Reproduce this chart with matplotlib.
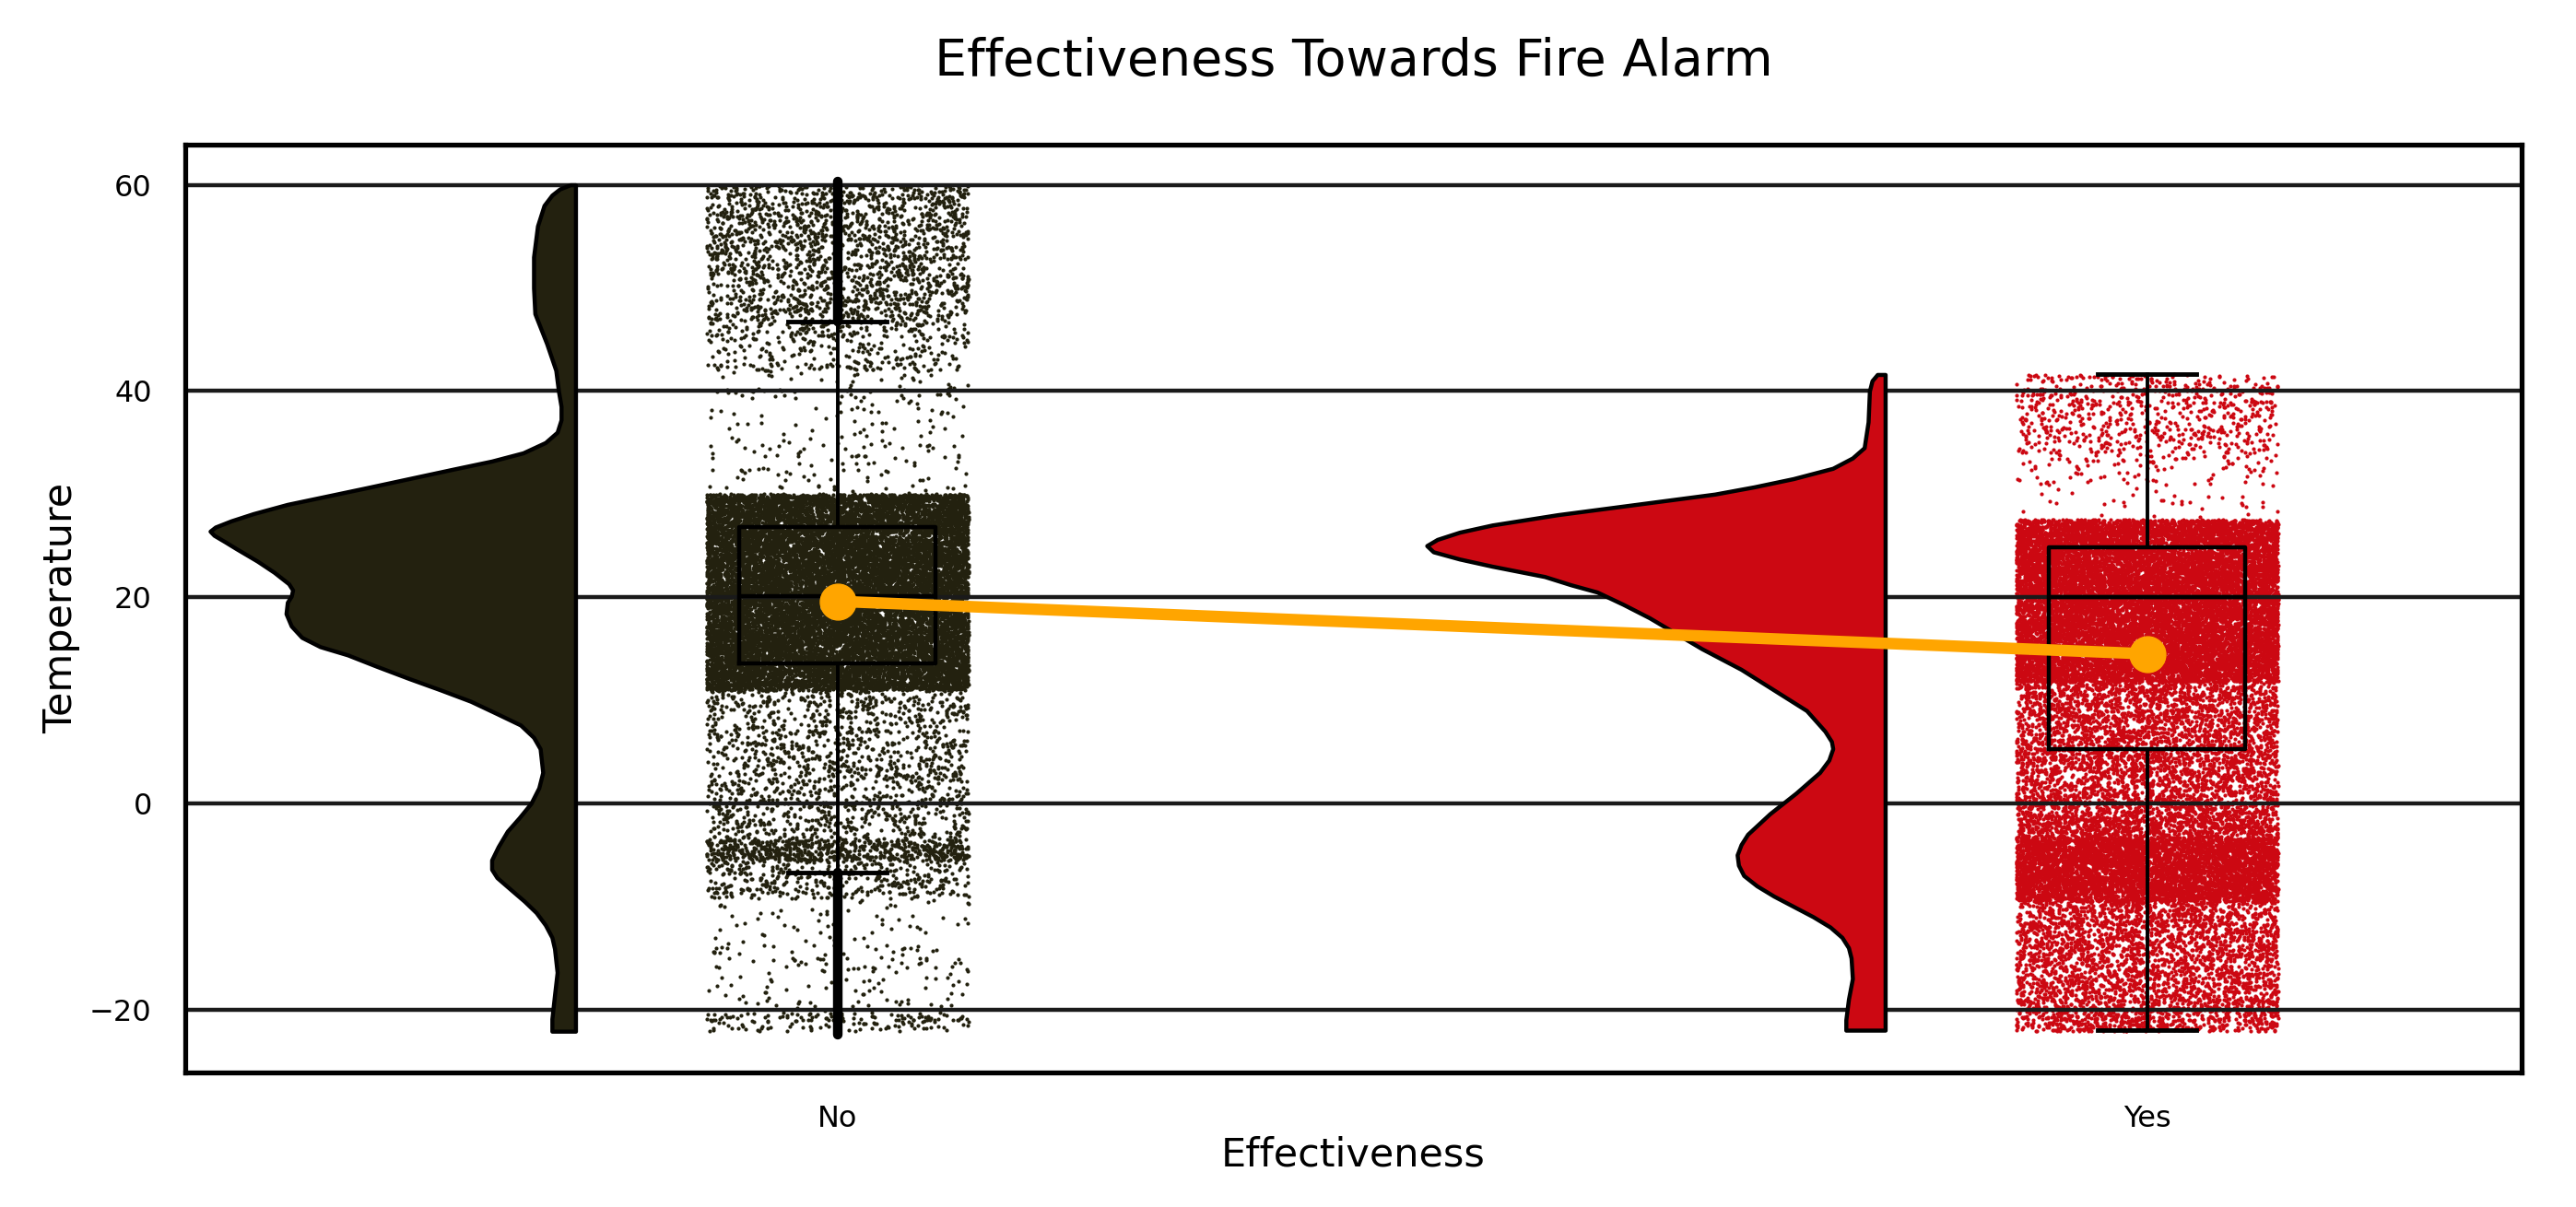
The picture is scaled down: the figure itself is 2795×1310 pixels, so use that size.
import numpy as np
import matplotlib.pyplot as plt

# categories and colours
groups = ['No', 'Yes']
colors = ['#23210F', '#CC0812']

# half-violin outline (temperature, width in x units)
no_kde_temp = [60.0, 59.6, 59.0, 58.0, 56.0, 53.0, 50.0, 47.5, 44.6, 42.0, 40.0,
               38.5, 37.2, 36.0, 35.0, 34.0, 33.2, 32.4, 31.5, 30.6, 29.8, 29.0,
               28.1, 27.4, 26.8, 26.4, 26.0, 25.4, 24.7, 23.5, 22.4, 21.3, 20.7,
               20.1, 19.5, 18.4, 17.2, 16.1, 15.2, 14.4, 13.3, 12.1, 11.0, 9.9,
               8.7, 7.6, 6.4, 5.3, 3.0, 1.5, 0.0, -1.4, -2.7, -4.2, -5.5, -6.4,
               -7.2, -8.3, -9.5, -10.6, -11.8, -13.0, -14.1, -16.4, -18.6, -20.9,
               -22.1]
no_kde_width = [0.004, 0.012, 0.018, 0.024, 0.029, 0.032, 0.032, 0.031, 0.022,
                0.015, 0.013, 0.011, 0.011, 0.014, 0.023, 0.04, 0.064, 0.094,
                0.127, 0.16, 0.19, 0.22, 0.246, 0.263, 0.275, 0.279, 0.276,
                0.268, 0.259, 0.243, 0.23, 0.219, 0.216, 0.217, 0.22, 0.221,
                0.217, 0.209, 0.195, 0.174, 0.152, 0.127, 0.103, 0.08, 0.06,
                0.042, 0.032, 0.027, 0.025, 0.028, 0.034, 0.043, 0.052, 0.059,
                0.064, 0.064, 0.06, 0.05, 0.039, 0.03, 0.023, 0.018, 0.016, 0.014,
                0.016, 0.018, 0.018]

yes_kde_temp = [41.6, 41.0, 40.0, 37.0, 34.5, 33.5, 32.5, 31.5, 30.7, 30.0, 29.0,
                28.0, 27.0, 26.3, 25.6, 25.0, 24.4, 23.7, 23.0, 22.0, 21.2, 20.5,
                19.3, 18.0, 16.5, 15.0, 13.0, 11.0, 9.0, 7.0, 6.0, 5.3, 4.2, 3.0,
                1.0, -1.0, -3.0, -4.0, -5.0, -6.0, -7.0, -8.0, -9.0, -10.0, -11.0,
                -12.0, -13.0, -14.0, -15.0, -17.0, -19.0, -21.0, -22.0]
yes_kde_width = [0.006, 0.01, 0.012, 0.013, 0.016, 0.025, 0.04, 0.07, 0.1, 0.13,
                 0.19, 0.25, 0.30, 0.325, 0.342, 0.35, 0.345, 0.325, 0.30, 0.26,
                 0.24, 0.22, 0.2, 0.18, 0.16, 0.14, 0.11, 0.085, 0.06, 0.046,
                 0.041, 0.04, 0.043, 0.05, 0.068, 0.088, 0.105, 0.11, 0.113,
                 0.112, 0.108, 0.098, 0.085, 0.07, 0.055, 0.042, 0.033, 0.028,
                 0.026, 0.025, 0.028, 0.03, 0.03]

# box plot statistics
q1 = [13.6, 5.3]
medians = [20.1, 20.0]
q3 = [26.8, 24.8]
whis_lo = [-6.7, -22.0]
whis_hi = [46.7, 41.6]
means = [19.6, 14.5]

# outliers of "No" form two solid runs
no_flier_lo = [-22.4, 46.7]
no_flier_hi = [-6.7, 60.3]

# rain density bands: temperature range and dots per degree
no_band_lo = [46.8, 42.0, 30.0, 11.0, -3.5, -5.5, -9.2, -20.3, -22.1]
no_band_hi = [60.0, 46.8, 42.0, 30.0, 11.0, -3.5, -5.5, -9.2, -20.3]
no_band_rate = [140, 75, 18, 900, 100, 340, 105, 18, 90]

yes_band_lo = [34.0, 31.0, 27.5, 11.8, -0.8, -3.3, -9.5, -22.1]
yes_band_hi = [41.6, 34.0, 31.0, 27.5, 11.8, -0.8, -3.3, -9.5]
yes_band_rate = [90, 35, 11, 900, 300, 420, 900, 270]


def spread(k, seed):
    # deterministic scatter for the jitter texture
    v = np.sin(k * 12.9898 + seed * 78.233) * 43758.5453
    return v - np.floor(v)


def rain(pos, lo, hi, rate, start):
    xs, ys = [], []
    k0 = start
    for a, b, r in zip(lo, hi, rate):
        n = int(r * (b - a))
        k = np.arange(k0, k0 + n)
        ys.append(a + (b - a) * spread(k, 1))
        xs.append(pos + 0.1 * (2 * spread(k, 2) - 1))
        k0 += n
    return np.concatenate(xs), np.concatenate(ys)


fig = plt.figure(figsize=(27.95, 13.1), dpi=100)
ax = fig.add_axes([0.0719, 0.1115, 0.907, 0.7687])

kde_temp = [no_kde_temp, yes_kde_temp]
kde_width = [no_kde_width, yes_kde_width]
bands = [(no_band_lo, no_band_hi, no_band_rate),
         (yes_band_lo, yes_band_hi, yes_band_rate)]

for i in range(2):
    # cloud
    t = np.array(kde_temp[i])
    w = np.array(kde_width[i])
    ax.fill_betweenx(t, i - 0.2 - w, i - 0.2, facecolor=colors[i],
                     edgecolor='black', lw=3.2, joinstyle='round', zorder=2)
    # rain
    x, y = rain(i, *bands[i], start=7 + 100000 * i)
    ax.scatter(x, y, s=9, color=colors[i], linewidths=0, zorder=1)

# fliers of "No"
for a, b in zip(no_flier_lo, no_flier_hi):
    ax.plot([0, 0], [a, b], color='black', lw=7.5, solid_capstyle='round', zorder=3)

stats = []
for i in range(2):
    stats.append(dict(q1=q1[i], med=medians[i], q3=q3[i], whislo=whis_lo[i],
                      whishi=whis_hi[i], fliers=[], label=groups[i]))
ax.bxp(stats, positions=[0, 1], widths=0.15, showfliers=False,
       boxprops=dict(color='black', lw=3.2),
       whiskerprops=dict(color='black', lw=2.8),
       capprops=dict(color='black', lw=3.5),
       medianprops=dict(color='black', lw=3.2),
       manage_ticks=False, zorder=3)

# means
ax.plot([0, 1], means, color='orange', lw=9, marker='o', ms=28, zorder=5)

ax.set_xlim(-0.498, 1.286)
ax.set_ylim(-26.1, 63.9)
ax.set_xticks([0, 1])
ax.set_xticklabels(groups)
ax.set_yticks([-20, 0, 20, 40, 60])
ax.tick_params(axis='x', length=0, pad=25, labelsize=23)
ax.tick_params(axis='y', length=0, pad=26, labelsize=23)

ax.set_axisbelow('line')
ax.yaxis.grid(True, color='#1a1a1a', lw=3.2)
for s in ax.spines.values():
    s.set_linewidth(3.8)
    s.set_color('black')

ax.set_xlabel('Effectiveness', fontsize=31, labelpad=2)
ax.set_ylabel('Temperature', fontsize=31, labelpad=7)
ax.set_title('Effectiveness Towards Fire Alarm', fontsize=40, pad=54)

fig.savefig('out.png', dpi=100)
